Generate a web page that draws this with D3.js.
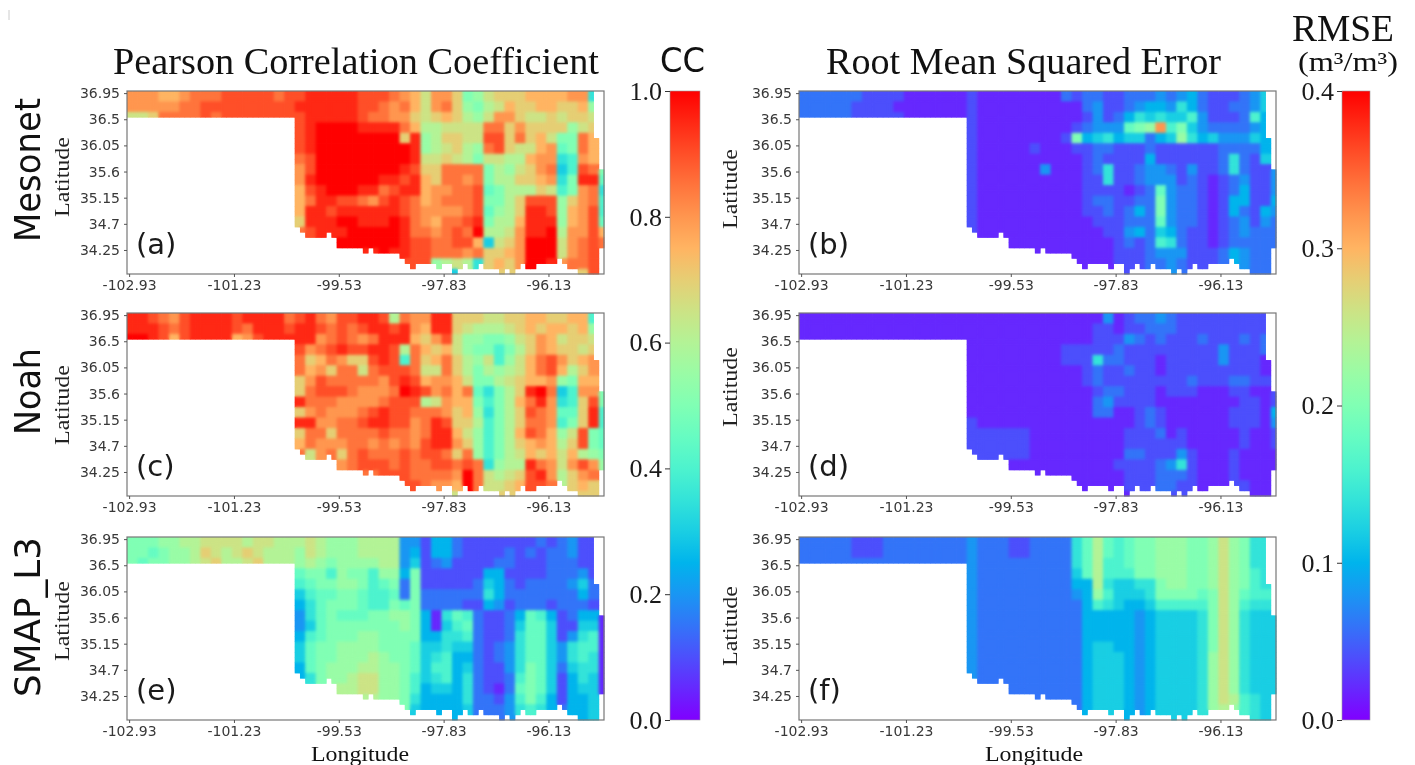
<!DOCTYPE html>
<html>
<head>
<meta charset="utf-8">
<script src="https://cdn.jsdelivr.net/npm/d3@7"></script>
<style>
  html, body { margin: 0; padding: 0; background: #fff; }
  svg { display: block; filter: blur(0.45px); }
</style>
</head>
<body>
<svg id="chart" width="1415" height="765"></svg>
<script>
// tick labels
const lonLabels = ["-102.93", "-101.23", "-99.53", "-97.83", "-96.13"];
const latLabels = ["36.95", "36.5", "36.05", "35.6", "35.15", "34.7", "34.25"];
const ccTicks = [0, 0.2, 0.4, 0.6, 0.8, 1.0];
const rmseTicks = [0, 0.1, 0.2, 0.3, 0.4];

// state outline: for each of the 91 grid columns, first row and number of rows with data
const firstRow = d3.range(91).map(c => c == 89 ? 9 : c == 90 ? 15 : 0);
const rowsFilled = [5,5,5,5,5,5,5,5,5,5,5,5,5,5,5,5,5,5,5,5,5,5,5,5,5,5,5,5,5,5,5,5,
  26,27,28,28,28,28,27,28,30,30,30,30,30,31,30,31,31,31,31,31,32,33,34,33,33,33,33,34,33,33,35,34,33,34,34,33,
  34,34,34,35,34,35,34,33,34,34,33,33,33,33,32,33,34,34,35,35,35,35,30];

// values, one char per 2x2 block: base-36 digit = twentieths of the colour range
// panhandle rows (first 16 blocks) and main body rows (last 30 blocks)
const ccMesonetWest = ["gggffghhhiiiiihi", "ggggghhiiiiiiiii", "ddehhhhihiiiiiii"];
const ccMesonetEast = [
  "ijjjjjiiihgfdggeabdeeeffffgg79", "jjjjjjiihghfdghebacdfeeffeefb9", "ijjjjjihhggedefecbdggeddedeed9",
  "ijkkkkjjjjhfccddddhhegeeeebde9", "ijkkkkkkkkejbceeddiiehefdaahff", "ijkkkkkkkkkjbcdecbhieddfg9ahfg",
  "hikkkkkkkkkjddedcaddccfgg78gff", "gikkkkkkkkjieehhhhacbdegh68iha", "gjkkkkkkjjijfehhghacceefg7ajj9",
  "fijkkkjjhijjfgghhi9accced8agh7", "fhjjiihgijihfghhhiaaceiiibegh8", "fjjijjjjjjihgggghi9bcejjibfgi8",
  "ejjjkkjjjkjhgfhhijaccfjjjbfgi9", "hijjjkkkkkjhhghihkccdgjjkcggif", "jjjjkkkkkkjiihhiif6degkkkdghih",
  "jjjjkkjjkjjiihhhgheefgkkkdghih", "jjjjjjjjjjiiibcdc7efegkkjghhij", "jjjjjjjjjjjjjjj6eeeeeeeeeeeeij"];

const ccNoahWest = ["jjihgijjjjijjjjh", "jjjihijjjjihjjji", "kkjifijjjjfgijjj"];
const ccNoahEast = [
  "ijhgiijjichggjjeeeddeeffeeff89", "jjihihijjijgfjjedcccdefeffefb9", "jjghihghjjjfegidbbaabdegfdeed9",
  "ighijiijjichfefdbaa8acegfeede9", "hefhgeeiji8hefhecbd8bdfhigefg9", "hfgehhdhiiihddhecacbcdfhifcege",
  "egihhhhhgijifggfdaacdeffgbaffe", "ehiiihggghkjighfh97acejkh68gga", "jhhhgggghiiicdgffa8acfhjg78eia",
  "eghggghijiihhhgefb7aceihg99ej8", "jjgghhijjiighjieec8acehhg8aej8", "ehhehhhhihhghjjfdb8acfihfbdia9",
  "fhggghhghghgijjgeb8acefgfceia9", "hdghehihhhihiihehb8acdfefdfcba", "hhhhghiiihihhiihih7bccjhgdgigb",
  "hhhhhghhiiihhhhgkhdcdeijgceghf", "iiiiiiiiiiiihggfkhddefiihcefed", "iiiiiiiiiiiiiiideeeeeeeeeeeeed"];

const ccSmapWest = ["aaabbccddddcddcc", "aa9abbcedcdedccc", "a9aabbcdeccdeccc"];
const ccSmapEast = [
  "cdcbbbcccc 442553 2222222 3234222", "bdcbbbcccc 452553 2222323 2334222", "bcbabbbbcc 462342 2223322 2333222",
  "9aa8baa8bb 5a2222 2255222 2333422", "89aabba89a 3a2222 2365323 3334633", "6899aa9889 3a3333 3375333 3333533",
  "579aaa988a 9a3333 2254233 3233322", "479a999aab ba5179 8322359 8523551", "469aaaaaaa ba5168 9322369 9622661",
  "589aaabbaa aa5577 8322379 9624781", "69aabbbbaa a96676 6323479 9647881", "69aabbbcba a96785 5323479 9647871",
  "59abbbccbb a96885 632247a 9636771", "57abbcddbb a86785 732238a 9625761", "678accddbb a85665 732139a 9625661",
  "7799ccccbb a75555 733248a 8525566", "aaaaaaaaaa a65555 6333478 7535566", "aaaaaaaaaa a65545 5333478 7535566"];

const rmseMesonetWest = ["3333332222111111", "3333322221111111", "3333322222111111"];
const rmseMesonetEast = [
  "2111111113 2332233343 4532223462", "2111111111 1342234554 7532233462", "2111111111 1242357676 6842223852",
  "2111111111 234449abg8 a643333452", "2111111112 a567566356 b756444652", "2111112111 2233222322 2222333352",
  "2111111111 1232222522 2222373262", "2111111411 1237223443 2422373224", "2111111111 1227223444 2321234224",
  "2111111111 1222212394 3321235224", "2111111111 12332233a4 3321255225", "2111111111 12232353a4 3321253254",
  "2111111111 1122233394 3321234243", "2111111111 1112245365 3221234333", "2111111111 1111232387 3221233333",
  "1111111111 1111222344 4222354333", "1111111111 1111222334 3222354333", "1111111111 1111223334 3222333333"];

const rmseNoahWest = ["1111111111111111", "1111111111111111", "1111111111111111"];
const rmseNoahEast = [
  "1111111111 1114123343 2222222221", "1111111111 1122122333 2222222221", "1111111111 1122243232 2232223231",
  "1111111112 2222322222 2222422231", "1111111112 2273322212 2222422211", "1111111111 1232232212 2222222211",
  "1111111111 1232222222 2322233221", "1111111111 1123322212 2211122112", "1111111111 1134222211 1111112212",
  "1111111111 1133112321 1111122215", "2111111111 1111112321 1111122214", "2222221111 1111122231 2111112112",
  "2222221111 1111122222 2111112112", "2222221111 1111133222 4211121111", "2222111111 1111222234 7211121111",
  "1111111111 1111122233 3211121111", "1111111111 1111122233 2211122111", "1111111111 1111112222 2211111111"];

const rmseSmapWest = ["3333322233333333", "3333322233333333", "3333333333333333"];
const rmseSmapEast = [
  "4333223333 79c989aabb baabdba777", "4333223333 79c989aabb baabdba777", "4333333333 79c889aabb baabdba777",
  "4333333333 69c888aabb baabdba877", "4333333333 55c76677ab baabdba877", "4333333333 45b86667aa aa9adb9887",
  "4333333333 3587655688 888adb8777", "4333333333 3555554566 667adb7666", "4333333333 3555554566 667adb7666",
  "4333333333 3555554566 667adb7666", "4333333333 3566554566 667adb7666", "4333333333 3566654566 667bdb7666",
  "4333333333 3566654566 667bdb7666", "4333333333 3566654566 667bdb7666", "4333333333 3566654566 667bdb7666",
  "3333333333 3566654566 667bdc8766", "3333333333 3566654566 667bcb8766", "3333333333 3566654566 667a8a8766"];

const svg = d3.select("#chart");
const serif = "'Liberation Serif', serif";
const sans = "'DejaVu Sans', sans-serif";
const defs = svg.append("defs");

// soften the blocks like the scanned figure, keeping the state edge sharp
const soft = defs.append("filter").attr("id", "soft")
  .attr("color-interpolation-filters", "sRGB");
soft.append("feGaussianBlur").attr("in", "SourceGraphic").attr("stdDeviation", 1.7).attr("result", "b");
soft.append("feComposite").attr("in", "b").attr("in2", "SourceAlpha").attr("operator", "in").attr("result", "c");
const merge = soft.append("feMerge");
merge.append("feMergeNode").attr("in", "SourceGraphic");
merge.append("feMergeNode").attr("in", "c");

// matplotlib rainbow
function rainbow(t) {
  const r = Math.min(1, Math.abs(2 * t - 0.5));
  const g = Math.sin(Math.PI * t);
  const b = Math.cos(Math.PI * t / 2);
  return d3.rgb(r * 255, g * 255, b * 255).formatHex();
}

function drawMap(cfg) {
  const x = d3.scaleBand().domain(d3.range(91)).range([cfg.left, cfg.left + 477]);
  const y = d3.scaleBand().domain(d3.range(35)).range([cfg.top, cfg.top + 183]);
  const color = d3.scaleSequential(rainbow).domain([0, cfg.max]);
  const east = cfg.east.map(s => s.replace(/\s/g, ""));

  const cells = [];
  d3.range(91).forEach(c => {
    d3.range(firstRow[c], rowsFilled[c]).forEach(r => {
      const b = c >> 1, j = r >> 1;
      const ch = b < 16 ? cfg.west[j][b] : east[j][b - 16];
      cells.push({ c: c, r: r, v: parseInt(ch, 36) / 20 * cfg.max });
    });
  });

  const g = svg.append("g").attr("filter", "url(#soft)");
  g.selectAll("rect")
    .data(cells)
    .enter().append("rect")
      .attr("x", d => x(d.c))
      .attr("y", d => y(d.r))
      .attr("width", x.bandwidth() + 0.4)
      .attr("height", y.bandwidth() + 0.4)
      .attr("fill", d => color(d.v));

  svg.append("rect")
    .attr("x", cfg.left).attr("y", cfg.top)
    .attr("width", 477).attr("height", 183)
    .attr("fill", "none").attr("stroke", "#777").attr("stroke-width", 1.2);

  const xAxis = svg.append("g")
    .attr("transform", "translate(0," + (cfg.top + 183) + ")")
    .call(d3.axisBottom(x).tickValues([0, 20, 40, 60, 80]).tickSize(3).tickPadding(3)
      .tickFormat((d, i) => lonLabels[i]));
  const yAxis = svg.append("g")
    .attr("transform", "translate(" + cfg.left + ",0)")
    .call(d3.axisLeft(y).tickValues([0, 5, 10, 15, 20, 25, 30]).tickSize(3).tickPadding(4)
      .tickFormat((d, i) => latLabels[i]));
  [xAxis, yAxis].forEach(a => {
    a.select(".domain").remove();
    a.selectAll("line").attr("stroke", "#555");
    a.selectAll("text").attr("font-family", sans).attr("font-size", 14).attr("fill", "#383838");
  });

  svg.append("text")
    .attr("x", cfg.left + 9).attr("y", cfg.top + 163)
    .attr("font-family", sans).attr("font-size", 29).attr("fill", "#1a1a1a")
    .text(cfg.tag);

  svg.append("text")
    .attr("transform", "translate(" + cfg.latX + "," + cfg.latY + ") rotate(-90)")
    .attr("text-anchor", "middle")
    .attr("font-family", serif).attr("font-size", 22).attr("fill", "#222")
    .attr("textLength", 80).attr("lengthAdjust", "spacingAndGlyphs")
    .text("Latitude");
}

drawMap({ left: 127, top: 91, max: 1, west: ccMesonetWest, east: ccMesonetEast, tag: "(a)", latX: 69, latY: 177 });
drawMap({ left: 127, top: 313, max: 1, west: ccNoahWest, east: ccNoahEast, tag: "(c)", latX: 69, latY: 405 });
drawMap({ left: 127, top: 537, max: 1, west: ccSmapWest, east: ccSmapEast, tag: "(e)", latX: 69, latY: 621 });
drawMap({ left: 799, top: 91, max: 0.4, west: rmseMesonetWest, east: rmseMesonetEast, tag: "(b)", latX: 737, latY: 189 });
drawMap({ left: 799, top: 313, max: 0.4, west: rmseNoahWest, east: rmseNoahEast, tag: "(d)", latX: 737, latY: 387 });
drawMap({ left: 799, top: 537, max: 0.4, west: rmseSmapWest, east: rmseSmapEast, tag: "(f)", latX: 737, latY: 626 });

// colorbars
const grad = defs.append("linearGradient").attr("id", "rainbowBar")
  .attr("x1", 0).attr("y1", 1).attr("x2", 0).attr("y2", 0);
d3.range(0, 1.0001, 0.05).forEach(t => {
  grad.append("stop").attr("offset", t).attr("stop-color", rainbow(t));
});

function drawBar(left, width, max, ticks, fmt) {
  const y = d3.scaleLinear().domain([0, max]).range([720, 91]);
  svg.append("rect")
    .attr("x", left).attr("y", 91).attr("width", width).attr("height", 629)
    .attr("fill", "url(#rainbowBar)").attr("stroke", "#999").attr("stroke-width", 0.6);
  const a = svg.append("g")
    .attr("transform", "translate(" + left + ",0)")
    .call(d3.axisLeft(y).tickValues(ticks).tickSize(5).tickPadding(3).tickFormat(d3.format(fmt)));
  a.select(".domain").remove();
  a.selectAll("line").attr("stroke", "#333");
  a.selectAll("text").attr("font-family", serif).attr("font-size", 26).attr("fill", "#1a1a1a");
}
drawBar(670, 30, 1, ccTicks, ".1f");
drawBar(1342, 28, 0.4, rmseTicks, ".1f");

// titles and side labels
function label(txt, x, y, size, family, len, rotate) {
  const t = svg.append("text")
    .attr("font-family", family).attr("font-size", size).attr("fill", "#111")
    .attr("textLength", len).attr("lengthAdjust", "spacingAndGlyphs")
    .text(txt);
  if (rotate) t.attr("transform", "translate(" + x + "," + y + ") rotate(-90)");
  else t.attr("x", x).attr("y", y);
}
label("Pearson Correlation Coefficient", 113, 74, 37, serif, 486);
label("Root Mean Squared Error", 826, 74, 37, serif, 395);
label("CC", 660, 72, 33, sans, 45);
label("RMSE", 1292, 41, 37, serif, 102);
label("(m\u00b3/m\u00b3)", 1298, 71, 27, serif, 100);
label("Mesonet", 40, 242, 35, sans, 144, true);
label("Noah", 40, 435, 35, sans, 87, true);
label("SMAP_L3", 40, 697, 35, sans, 160, true);
label("Longitude", 311, 761, 22, serif, 98);
label("Longitude", 985, 761, 22, serif, 98);

svg.append("line")
  .attr("x1", 9).attr("x2", 9).attr("y1", 10).attr("y2", 20)
  .attr("stroke", "#ccc");
</script>
</body>
</html>
